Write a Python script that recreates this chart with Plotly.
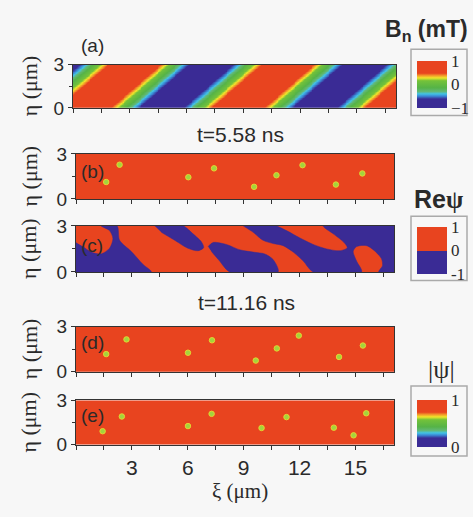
import numpy as np
import plotly.graph_objects as go

W, H = 473, 517

# ---------------- data ----------------
XI_MAX = 17.07
ETA_MAX = 3.0
x_major_vals = [3, 6, 9, 12, 15]
x_major_text = ["3", "6", "9", "12", "15"]
x_minor_vals = [0, 1.5, 4.5, 7.5, 10.5, 13.5, 16.5]
y_major_vals = [0, 3]
y_major_text = ["0", "3"]
y_minor_vals = [1.5]

# panel (a): stripe parameters of B_n (um)
BN_WAVELENGTH = 8.1
BN_PHASE = 0.63
BN_TILT = 0.88

# vortex positions (xi, eta) in um
vort_b_xi = [1.62, 2.34, 6.03, 7.41, 9.56, 10.76, 12.16, 13.95, 15.37]
vort_b_eta = [1.13, 2.28, 1.45, 2.04, 0.81, 1.58, 2.25, 0.96, 1.70]
vort_d_xi = [1.62, 2.71, 6.01, 7.30, 9.65, 10.78, 11.96, 14.12, 15.40]
vort_d_eta = [1.17, 2.15, 1.26, 2.09, 0.74, 1.55, 2.40, 0.98, 1.74]
vort_e_xi = [1.43, 2.46, 6.01, 7.28, 9.96, 11.30, 13.84, 14.90, 15.58]
vort_e_eta = [0.91, 1.91, 1.26, 2.09, 1.13, 1.87, 1.15, 0.63, 2.13]

# panel (c): regions where Re(psi) = -1 (xi, eta) in um
blue1_xi = [0, 0, 4.04, 3.59, 2.97, 2.34, 2.20, 1.35, 1.80, 1.98, 1.80, 1.35, 0.82, 0.37]
blue1_eta = [1.92, 0, 0, 0.50, 1.33, 2.06, 3.0, 3.0, 2.69, 2.17, 1.54, 1.17, 1.29, 1.65]
blue2_xi = [4.22, 5.74, 6.28, 6.73, 6.85, 6.55, 6.01, 5.30, 4.58]
blue2_eta = [3.0, 3.0, 2.48, 1.96, 1.58, 1.38, 1.54, 2.06, 2.58]
blue3_xi = [7.09, 7.36, 8.07, 8.79, 9.51, 10.13, 10.58, 10.85, 8.25, 7.71, 7.27]
blue3_eta = [1.65, 1.92, 1.79, 1.44, 1.29, 1.17, 0.81, 0, 0, 0.71, 1.33]
blue4_xi = [8.97, 9.51, 10.04, 10.58, 11.12, 11.66, 12.20, 12.73, 15.33, 15.06, 14.88,
            15.06, 15.60, 16.05, 16.40, 16.45, 16.25, 17.07, 17.07, 13.27, 13.81, 14.35,
            14.56, 14.17, 13.45, 12.73, 12.02, 11.30, 10.76]
blue4_eta = [3.0, 2.58, 2.06, 1.85, 1.71, 1.29, 0.71, 0, 0, 0.71, 1.33,
             1.65, 1.71, 1.35, 0.85, 0.40, 0, 0, 3.0, 3.0, 2.48, 1.96,
             1.58, 1.38, 1.50, 1.79, 2.21, 2.69, 3.0]

# ---------------- styling ----------------
RED = "#e8441f"
BLUE = "#3a2b95"
JET = [
    [0.00, BLUE], [0.19, BLUE], [0.25, "#3a86d4"], [0.30, "#42c2e6"],
    [0.35, "#62b878"], [0.43, "#55b347"], [0.58, "#74c23a"], [0.64, "#f0e52a"],
    [0.69, "#f2992a"], [0.74, RED], [1.00, RED],
]
BINARY = [[0, BLUE], [0.5, BLUE], [0.5, RED], [1, RED]]

SANS = "Liberation Sans, Arial, sans-serif"
SERIF = "Liberation Serif, Times New Roman, serif"
TXT = "#2a2a2a"
BG = "#f7f7f7"


def px_x(p):
    return p / W


def px_y(p):
    return 1 - p / H


# panel pixel boxes: (left, right, top, bottom)
panels = [
    (73, 396, 57, 102),
    (76, 394, 150, 197),
    (76, 394, 225, 273),
    (76, 394, 330, 377),
    (76, 394, 407, 453),
]

fig = go.Figure()

# panel (a) field
xs = np.linspace(0, XI_MAX, 343)
ys = np.linspace(0, ETA_MAX, 61)
X, Y = np.meshgrid(xs, ys)
Zbn = np.cos(2 * np.pi * (X - BN_PHASE - BN_TILT * Y) / BN_WAVELENGTH)
fig.add_trace(go.Heatmap(x=xs, y=ys, z=Zbn, coloraxis="coloraxis",
                         xaxis="x", yaxis="y", hoverinfo="skip"))

# |psi| panels (b), (d), (e)
ones = [[1, 1], [1, 1]]
for ax, vx, vy in [("2", vort_b_xi, vort_b_eta), ("4", vort_d_xi, vort_d_eta),
                   ("5", vort_e_xi, vort_e_eta)]:
    fig.add_trace(go.Heatmap(x=[0, XI_MAX], y=[0, ETA_MAX], z=ones, coloraxis="coloraxis3",
                             xaxis="x" + ax, yaxis="y" + ax, hoverinfo="skip"))
    fig.add_trace(go.Scatter(x=vx, y=vy, mode="markers", xaxis="x" + ax, yaxis="y" + ax,
                             marker=dict(size=5.5, color="#a3d43e",
                                         line=dict(color="#e4d430", width=1)),
                             hoverinfo="skip"))

# Re(psi) panel (c)
fig.add_trace(go.Heatmap(x=[0, XI_MAX], y=[0, ETA_MAX], z=ones, coloraxis="coloraxis2",
                         xaxis="x3", yaxis="y3", hoverinfo="skip"))
for bx, by in [(blue1_xi, blue1_eta), (blue2_xi, blue2_eta),
               (blue3_xi, blue3_eta), (blue4_xi, blue4_eta)]:
    fig.add_trace(go.Scatter(x=bx, y=by, mode="lines", fill="toself", fillcolor=BLUE,
                             line=dict(color=BLUE, width=0.5, shape="spline", smoothing=0.8),
                             xaxis="x3", yaxis="y3", hoverinfo="skip"))

layout = dict(
    width=W, height=H, margin=dict(l=0, r=0, t=0, b=0),
    paper_bgcolor=BG, plot_bgcolor=BG, showlegend=False,
    font=dict(family=SANS, color=TXT),
)

for i, (l, r, t, b) in enumerate(panels):
    n = "" if i == 0 else str(i + 1)
    last = i == len(panels) - 1
    layout["xaxis" + n] = dict(
        domain=[px_x(l), px_x(r)], range=[0, XI_MAX], anchor="y" + n,
        tickmode="array", tickvals=x_major_vals, ticktext=x_major_text,
        showticklabels=last,
        ticks="outside", ticklen=4, tickwidth=1, tickcolor="#333",
        minor=dict(tickmode="array", tickvals=x_minor_vals, ticks="outside",
                   ticklen=4, tickwidth=1, tickcolor="#333", showgrid=False),
        showline=True, mirror=True, linecolor="#333", linewidth=1.2,
        showgrid=False, zeroline=False,
        tickfont=dict(family=SANS, size=21, color=TXT),
    )
    layout["yaxis" + n] = dict(
        domain=[px_y(b), px_y(t)], range=[0, ETA_MAX], anchor="x" + n,
        tickmode="array", tickvals=y_major_vals, ticktext=y_major_text,
        ticks="outside", ticklen=4, tickwidth=1, tickcolor="#333",
        minor=dict(tickmode="array", tickvals=y_minor_vals, ticks="outside",
                   ticklen=3, tickwidth=1, tickcolor="#333", showgrid=False),
        showline=True, mirror=True, linecolor="#333", linewidth=1.2,
        showgrid=False, zeroline=False,
        tickfont=dict(family=SANS, size=19, color=TXT),
    )


def cbar(top, bottom, tvals, ttext):
    return dict(
        thickness=30, thicknessmode="pixels",
        len=bottom - top, lenmode="pixels",
        x=px_x(417), xanchor="left", y=px_y(top), yanchor="top",
        xpad=0, ypad=0, outlinewidth=0, borderwidth=0,
        tickvals=tvals, ticktext=ttext, ticks="",
        tickfont=dict(family=SERIF, size=17, color=TXT),
    )


layout["coloraxis"] = dict(colorscale=JET, cmin=-1, cmax=1,
                           colorbar=cbar(53, 100, [-1, 0, 1], ["−1", "0", "1"]))
layout["coloraxis2"] = dict(colorscale=BINARY, cmin=-1, cmax=1,
                            colorbar=cbar(226, 273, [-1, 0, 1], ["-1", "0", "1"]))
layout["coloraxis3"] = dict(colorscale=JET, cmin=0, cmax=1,
                            colorbar=cbar(407, 454, [0, 1], ["0", "1"]))

# colorbar frames
shapes = []
for (x0, x1, y0, y1) in [(411, 467, 41, 110), (411, 467, 215, 282), (411, 467, 392, 465)]:
    shapes.append(dict(type="rect", xref="paper", yref="paper",
                       x0=px_x(x0), x1=px_x(x1), y0=px_y(y1), y1=px_y(y0),
                       line=dict(color="#aaaaaa", width=1.5), fillcolor="rgba(0,0,0,0)"))
layout["shapes"] = shapes

ann = []


def add_text(text, x, y, size, family=SANS, angle=0, xanchor="center"):
    ann.append(dict(text=text, x=px_x(x), y=px_y(y), xref="paper", yref="paper",
                    showarrow=False, xanchor=xanchor, yanchor="middle", textangle=angle,
                    font=dict(family=family, size=size, color=TXT)))


# panel letters
add_text("(a)", 92, 37, 19)
add_text("(b)", 92, 168, 19)
add_text("(c)", 92, 245, 19)
add_text("(d)", 92, 347, 19)
add_text("(e)", 92, 423, 19)
# y titles
for (l, r, t, b) in panels:
    add_text("η (μm)", 29, (t + b) / 2, 22, family=SERIF, angle=-90)
# x title
add_text("ξ (μm)", 240, 501, 21, family=SERIF)
# time labels
add_text("t=5.58 ns", 240, 130, 21)
add_text("t=11.16 ns", 246, 305, 21)
# colorbar titles
add_text("<b>B<sub>n</sub> (mT)</b>", 426, 21, 23)
add_text("<b>Re<span style='font-family:Liberation Serif'>ψ</span></b>", 438, 197, 25)
add_text("|ψ|", 441, 375, 26, family=SERIF)
layout["annotations"] = ann

fig.update_layout(**layout)
fig.write_html("out.html")
